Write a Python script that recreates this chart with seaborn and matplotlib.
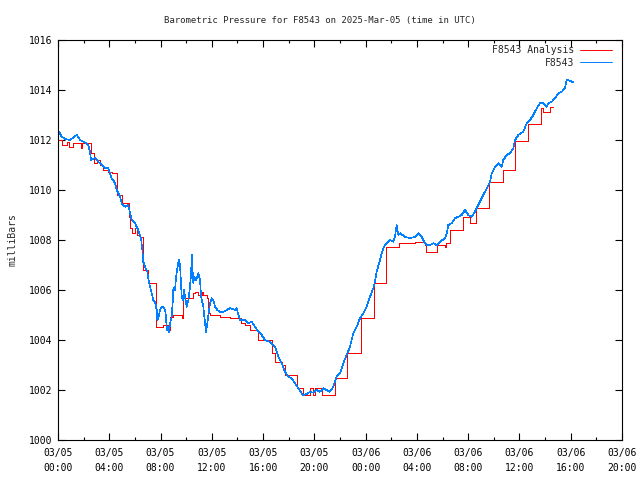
"""
Barometric pressure for station F8543, 2025-Mar-05 (gnuplot-style chart)
"""

import numpy as np
import pandas as pd
import matplotlib.pyplot as plt
import matplotlib.dates as mdates
from matplotlib.ticker import MultipleLocator
import seaborn as sns

START = pd.Timestamp("2025-03-05 00:00")

# station observations: hours after 03/05 00:00 UTC, pressure in mb
obs_hours = [
    0.08, 0.29, 0.55, 0.94, 1.46, 1.72, 2.11, 2.36, 2.50, 2.57,
    2.89, 3.14, 3.41, 3.67, 3.92, 4.19, 4.45, 4.58, 4.84, 4.97,
    5.23, 5.48, 5.62, 5.75, 6.01, 6.26, 6.48, 6.58, 6.65, 6.79,
    6.97, 7.04, 7.18, 7.31, 7.43, 7.57, 7.70, 7.75, 7.82, 7.96,
    8.09, 8.22, 8.35, 8.43, 8.48, 8.56, 8.66, 8.74, 8.87, 8.95,
    9.00, 9.13, 9.21, 9.34, 9.42, 9.52, 9.57, 9.65, 9.73, 9.83,
    9.91, 10.04, 10.17, 10.30, 10.38, 10.45, 10.51, 10.56, 10.63, 10.77,
    10.95, 11.08, 11.16, 11.34, 11.47, 11.55, 11.65, 11.73, 11.86, 11.99,
    12.12, 12.25, 12.43, 12.64, 12.90, 13.16, 13.42, 13.81, 13.94, 14.07,
    14.20, 14.59, 14.85, 15.11, 15.37, 15.63, 15.89, 16.15, 16.54, 16.93,
    17.19, 17.45, 17.71, 17.97, 18.23, 18.49, 18.75, 19.01, 19.14, 19.40,
    19.66, 19.92, 20.18, 20.44, 20.70, 20.96, 21.22, 21.48, 21.74, 22.00,
    22.26, 22.52, 22.78, 23.04, 23.30, 23.56, 23.82, 24.08, 24.34, 24.60,
    24.73, 24.86, 25.12, 25.25, 25.43, 25.64, 25.90, 26.16, 26.29, 26.42,
    26.55, 26.68, 27.07, 27.46, 27.85, 28.11, 28.37, 28.63, 28.76, 29.02,
    29.28, 29.54, 29.80, 30.19, 30.33, 30.45, 30.72, 30.97, 31.23, 31.49,
    31.75, 32.01, 32.27, 32.53, 32.79, 32.92, 33.18, 33.45, 33.70, 33.84,
    34.09, 34.35, 34.62, 34.74, 35.00, 35.26, 35.52, 35.65, 35.91, 36.30,
    36.57, 36.82, 37.08, 37.35, 37.60, 37.86, 38.13, 38.25, 38.52, 38.77,
    39.03, 39.30, 39.55, 39.68, 39.94, 40.20,
]
obs_mb = [
    1012.33, 1012.13, 1012.04, 1012.00, 1012.20, 1012.00, 1011.90, 1011.80, 1011.53, 1011.20,
    1011.28, 1011.13, 1011.00, 1010.88, 1010.88, 1010.47, 1010.28, 1010.00, 1009.73, 1009.47,
    1009.33, 1009.40, 1009.07, 1008.80, 1008.67, 1008.40, 1008.07, 1007.60, 1007.13, 1006.93,
    1006.73, 1006.47, 1006.13, 1005.87, 1005.60, 1005.53, 1005.20, 1004.80, 1004.88, 1005.20,
    1005.33, 1005.33, 1005.20, 1004.93, 1004.40, 1004.53, 1004.33, 1004.67, 1004.93, 1005.53,
    1006.07, 1006.00, 1006.53, 1006.93, 1007.20, 1007.00, 1006.53, 1005.73, 1005.60, 1006.00,
    1005.73, 1005.33, 1005.60, 1006.13, 1006.67, 1007.40, 1006.67, 1006.27, 1006.53, 1006.40,
    1006.67, 1006.40, 1005.73, 1005.33, 1004.67, 1004.33, 1004.67, 1005.00, 1005.47, 1005.67,
    1005.60, 1005.33, 1005.20, 1005.13, 1005.13, 1005.20, 1005.27, 1005.20, 1005.27, 1005.00,
    1004.80, 1004.80, 1004.67, 1004.73, 1004.53, 1004.33, 1004.20, 1004.00, 1003.93, 1003.73,
    1003.33, 1003.07, 1002.73, 1002.53, 1002.47, 1002.27, 1002.07, 1001.87, 1001.80, 1001.84,
    1001.93, 1001.89, 1002.00, 1001.93, 1002.07, 1002.00, 1001.93, 1002.13, 1002.53, 1002.67,
    1003.07, 1003.40, 1003.73, 1004.27, 1004.53, 1004.87, 1005.07, 1005.33, 1005.73, 1006.07,
    1006.33, 1006.73, 1007.20, 1007.47, 1007.73, 1007.87, 1008.00, 1007.93, 1008.13, 1008.60,
    1008.20, 1008.27, 1008.13, 1008.07, 1008.13, 1008.27, 1008.13, 1007.87, 1007.80, 1007.80,
    1007.87, 1007.80, 1007.93, 1008.07, 1008.27, 1008.60, 1008.67, 1008.87, 1008.93, 1009.00,
    1009.20, 1009.00, 1008.93, 1009.13, 1009.40, 1009.53, 1009.80, 1010.07, 1010.33, 1010.67,
    1010.93, 1011.07, 1010.93, 1011.20, 1011.40, 1011.47, 1011.67, 1012.00, 1012.20, 1012.33,
    1012.67, 1012.80, 1013.00, 1013.27, 1013.47, 1013.47, 1013.33, 1013.47, 1013.53, 1013.67,
    1013.87, 1013.93, 1014.07, 1014.40, 1014.37, 1014.30,
]

# analysis values (step changes)
ana_hours = [
    0.00, 0.29, 0.68, 0.86, 1.19, 1.79, 1.90, 2.57, 2.81, 3.04,
    3.28, 3.53, 3.92, 4.19, 4.58, 4.97, 5.54, 5.62, 5.75, 6.01,
    6.14, 6.40, 6.61, 7.04, 7.65, 8.22, 8.68, 8.74, 9.00, 9.65,
    9.73, 10.56, 10.69, 10.95, 11.21, 11.34, 11.60, 11.68, 11.86, 12.64,
    13.42, 14.28, 14.59, 14.98, 15.63, 16.67, 16.93, 17.45, 17.71, 18.62,
    19.09, 19.66, 19.92, 20.05, 20.57, 21.61, 22.57, 23.61, 24.65, 25.59,
    26.63, 27.59, 27.85, 28.63, 28.69, 29.59, 30.19, 30.27, 30.58, 31.57,
    32.14, 32.59, 33.65, 34.69, 35.65, 36.64, 37.66, 37.86, 38.38, 38.59,
]
ana_mb = [
    1012.00, 1011.80, 1011.93, 1011.73, 1011.90, 1011.67, 1011.87, 1011.47, 1011.07, 1011.20,
    1011.00, 1010.80, 1010.73, 1010.67, 1009.80, 1009.47, 1008.93, 1008.47, 1008.27, 1008.47,
    1008.20, 1008.13, 1006.80, 1006.27, 1004.53, 1004.60, 1004.40, 1004.93, 1005.00, 1004.87,
    1005.67, 1005.87, 1005.93, 1005.80, 1005.93, 1005.80, 1005.67, 1005.07, 1005.00, 1004.93,
    1004.87, 1004.67, 1004.60, 1004.40, 1004.00, 1003.50, 1003.13, 1003.00, 1002.60, 1002.07,
    1001.80, 1002.07, 1001.80, 1002.07, 1001.80, 1002.47, 1003.50, 1004.87, 1006.27, 1007.73,
    1007.87, 1007.90, 1007.93, 1007.80, 1007.53, 1007.80, 1007.73, 1007.87, 1008.40, 1008.93,
    1008.67, 1009.27, 1010.33, 1010.80, 1011.96, 1012.64, 1013.27, 1013.13, 1013.33, 1013.33,
]

obs = pd.DataFrame({
    "time": START + pd.to_timedelta(obs_hours, unit="h"),
    "mb": obs_mb,
})
ana = pd.DataFrame({
    "time": START + pd.to_timedelta(ana_hours, unit="h"),
    "mb": ana_mb,
})

sns.set_theme(style="ticks")
plt.rcParams.update({
    "font.family": ["DejaVu Sans Mono"],
    "font.size": 7,
    "axes.linewidth": 0.8,
    "axes.edgecolor": "black",
    "xtick.color": "black",
    "ytick.color": "black",
})

fig = plt.figure(figsize=(6.4, 4.8), dpi=100)
ax = fig.add_axes([58 / 640, 40 / 480, 564 / 640, 400 / 480])

# gnuplot png terminal draws 1px lines without antialiasing
sns.lineplot(data=ana, x="time", y="mb", ax=ax, color="#ff0000", lw=0.7,
             drawstyle="steps-post", estimator=None, sort=False,
             antialiased=False, label="F8543 Analysis")
sns.lineplot(data=obs, x="time", y="mb", ax=ax, color="#0080ff", lw=0.45,
             estimator=None, sort=False, antialiased=False, label="F8543")

ax.set_xlim(START, START + pd.Timedelta(hours=44))
ax.set_ylim(1000, 1016)
ax.yaxis.set_major_locator(MultipleLocator(2))
ax.xaxis.set_major_locator(mdates.HourLocator(byhour=range(0, 24, 4)))
ax.xaxis.set_minor_locator(mdates.HourLocator(byhour=range(0, 24, 2)))
ax.xaxis.set_major_formatter(mdates.DateFormatter("%m/%d\n%H:%M"))

ax.tick_params(which="both", direction="in", top=True, right=True, width=0.8)
ax.tick_params(which="major", length=5)
ax.tick_params(which="minor", length=2.5)
ax.tick_params(axis="x", which="major", pad=6, labelsize=7)
ax.tick_params(axis="y", which="major", pad=4, labelsize=7)
for lab in ax.get_xticklabels():
    lab.set_linespacing(1.6)

ax.set_xlabel("")
ax.set_ylabel("milliBars", fontsize=7)
ax.yaxis.set_label_coords(-0.071, 0.5)

# title is centred on the whole image, not on the plot area
fig.text(0.5, 1 - 20 / 480, "Barometric Pressure for F8543 on 2025-Mar-05 (time in UTC)",
         ha="center", va="center", fontsize=6.5)

leg = ax.legend(loc="upper right", bbox_to_anchor=(1 - 7 / 564, 1 - 2 / 400),
                frameon=False, markerfirst=False, fontsize=7,
                handlelength=3.3, handletextpad=0.6, labelspacing=0.3,
                borderaxespad=0.2, borderpad=0.1)
for line in leg.get_lines():
    line.set_linewidth(0.7)

fig.savefig("out.png", dpi=100)
plt.close(fig)
